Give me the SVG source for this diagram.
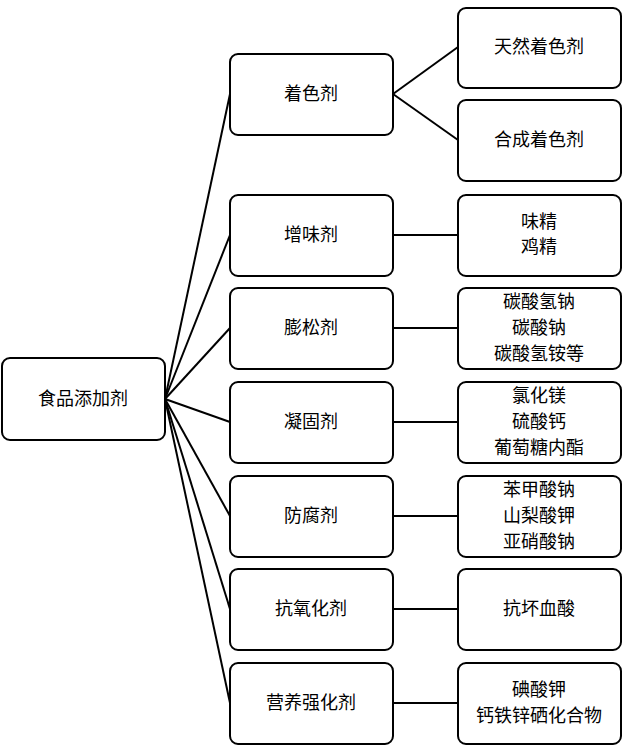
<svg xmlns="http://www.w3.org/2000/svg" width="627" height="752" viewBox="0 0 627 752">
<style>
rect{fill:#fff;stroke:#000;stroke-width:2}
text{font-family:"Noto Sans CJK SC","Noto Sans",sans-serif;font-size:18px;text-anchor:middle;fill:#000}
#edges line{stroke:#000;stroke-width:2}
</style>
<rect x="0" y="0" width="627" height="752" style="stroke:none"/>
<g id="edges">
<line x1="165" y1="399" x2="230" y2="94"/>
<line x1="165" y1="399" x2="230" y2="235"/>
<line x1="165" y1="399" x2="230" y2="328"/>
<line x1="165" y1="399" x2="230" y2="422"/>
<line x1="165" y1="399" x2="230" y2="516"/>
<line x1="165" y1="399" x2="230" y2="609"/>
<line x1="165" y1="399" x2="230" y2="703"/>
<line x1="393" y1="94" x2="458" y2="47"/>
<line x1="393" y1="94" x2="458" y2="140"/>
<line x1="393" y1="235" x2="458" y2="235"/>
<line x1="393" y1="328" x2="458" y2="328"/>
<line x1="393" y1="422" x2="458" y2="422"/>
<line x1="393" y1="516" x2="458" y2="516"/>
<line x1="393" y1="609" x2="458" y2="609"/>
<line x1="393" y1="703" x2="458" y2="703"/>
</g>
<g id="root"><rect x="2" y="358" width="163" height="82" rx="8"/><text x="83" y="405">食品添加剂</text></g>
<g id="m1"><rect x="230" y="54" width="163" height="81" rx="8"/><text x="311" y="100">着色剂</text></g>
<g id="m2"><rect x="230" y="195" width="163" height="81" rx="8"/><text x="311" y="241">增味剂</text></g>
<g id="m3"><rect x="230" y="288" width="163" height="81" rx="8"/><text x="311" y="334">膨松剂</text></g>
<g id="m4"><rect x="230" y="382" width="163" height="81" rx="8"/><text x="311" y="428">凝固剂</text></g>
<g id="m5"><rect x="230" y="476" width="163" height="81" rx="8"/><text x="311" y="522">防腐剂</text></g>
<g id="m6"><rect x="230" y="569" width="163" height="81" rx="8"/><text x="311" y="615">抗氧化剂</text></g>
<g id="m7"><rect x="230" y="663" width="163" height="81" rx="8"/><text x="311" y="709">营养强化剂</text></g>
<g id="r1"><rect x="458" y="8" width="163" height="80" rx="8"/><text x="539" y="53">天然着色剂</text></g>
<g id="r2"><rect x="458" y="100" width="163" height="81" rx="8"/><text x="539" y="146">合成着色剂</text></g>
<g id="r3"><rect x="458" y="195" width="163" height="81" rx="8"/><text x="539" y="228">味精</text><text x="539" y="253">鸡精</text></g>
<g id="r4"><rect x="458" y="288" width="163" height="81" rx="8"/><text x="539" y="308">碳酸氢钠</text><text x="539" y="334">碳酸钠</text><text x="539" y="360">碳酸氢铵等</text></g>
<g id="r5"><rect x="458" y="382" width="163" height="81" rx="8"/><text x="539" y="402">氯化镁</text><text x="539" y="428">硫酸钙</text><text x="539" y="454">葡萄糖内酯</text></g>
<g id="r6"><rect x="458" y="476" width="163" height="81" rx="8"/><text x="539" y="496">苯甲酸钠</text><text x="539" y="522">山梨酸钾</text><text x="539" y="548">亚硝酸钠</text></g>
<g id="r7"><rect x="458" y="569" width="163" height="81" rx="8"/><text x="539" y="615">抗坏血酸</text></g>
<g id="r8"><rect x="458" y="663" width="163" height="81" rx="8"/><text x="539" y="696">碘酸钾</text><text x="539" y="722">钙铁锌硒化合物</text></g>
</svg>
